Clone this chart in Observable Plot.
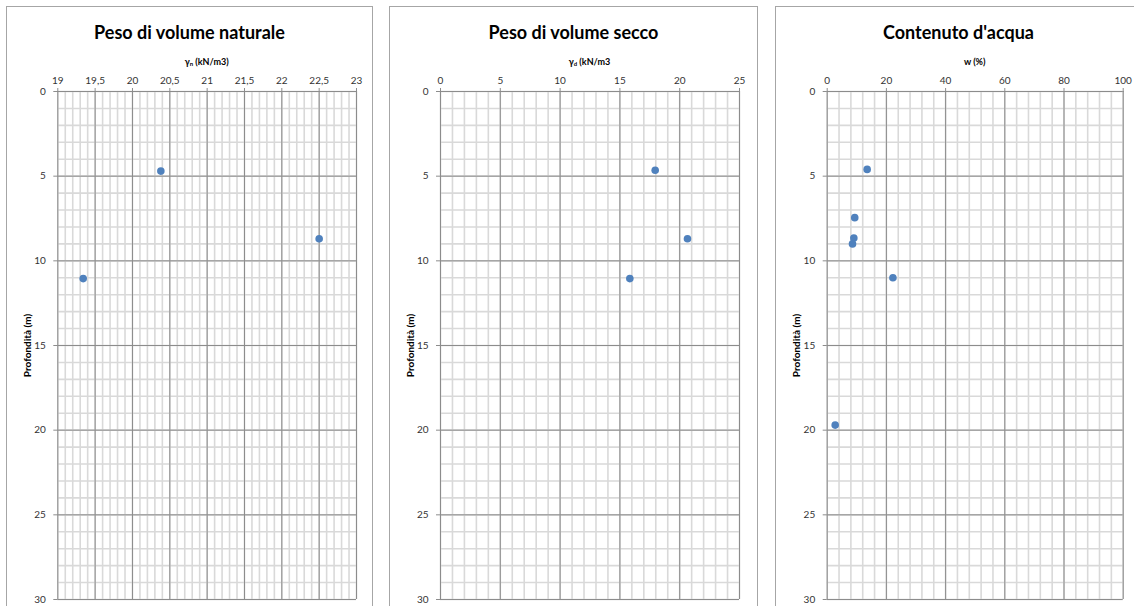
<!DOCTYPE html>
<html>
<head>
<meta charset="utf-8">
<script src="https://cdn.jsdelivr.net/npm/d3@7"></script>
<script src="https://cdn.jsdelivr.net/npm/@observablehq/plot@0.6"></script>
<style>
  html, body { margin: 0; padding: 0; background: #fff; }
  body { width: 1134px; height: 606px; overflow: hidden; position: relative; font-family: Lato, "Open Sans", sans-serif; }
  .panel { position: absolute; top: 6px; height: 660px; border: 1px solid #a6a6a6; box-sizing: border-box; background: #fff; }
  .title { position: absolute; top: 14px; left: 0; right: 0; text-align: center; font-weight: bold; font-size: 18px; color: #000; }
  .xlab { position: absolute; top: 49px; font-weight: bold; font-size: 9px; text-align: center; color: #000; white-space: nowrap; }
  .xlab sub { font-size: 6px; vertical-align: -1px; }
  .panel svg { position: absolute; left: 0; top: 59px; }
</style>
</head>
<body>
<script>
// Depth of each sample (m) and the measured values, one pair of arrays per profile
const depthNat = [4.7, 8.7, 11.05];
const unitWeightNat = [20.38, 22.5, 19.34];          // γn (kN/m3)

const depthDry = [4.65, 8.7, 11.05];
const unitWeightDry = [17.95, 20.65, 15.83];         // γd (kN/m3)

const depthWater = [4.6, 7.45, 8.65, 9.0, 11.0, 19.7];
const waterContent = [13.5, 9.3, 9.0, 8.55, 22.2, 2.7]; // w (%)

// Tick labels
const depthTicks = [0, 5, 10, 15, 20, 25, 30];
const ticksNat = [19, 19.5, 20, 20.5, 21, 21.5, 22, 22.5, 23];
const ticksDry = [0, 5, 10, 15, 20, 25];
const ticksWater = [0, 20, 40, 60, 80, 100];

const titles = ["Peso di volume naturale", "Peso di volume secco", "Contenuto d'acqua"];
const xLabels = ["γ<sub>n</sub> (kN/m3)", "γ<sub>d</sub> (kN/m3", "w (%)"];

const comma = (d) => String(d).replace(".", ",");

const panels = [
  { left: 6,   width: 367, plotLeft: 57.3,  plotRight: 356,  domain: [19, 23],  minorStep: 0.1, ticks: ticksNat,   depth: depthNat,   values: unitWeightNat },
  { left: 389, width: 369, plotLeft: 440,   plotRight: 739,  domain: [0, 25],   minorStep: 1,   ticks: ticksDry,   depth: depthDry,   values: unitWeightDry },
  { left: 775, width: 367, plotLeft: 826.7, plotRight: 1122.7, domain: [0, 100], minorStep: 4,   ticks: ticksWater, depth: depthWater, values: waterContent }
];

const SVG_H = 540;

panels.forEach((p, i) => {
  const div = document.createElement("div");
  div.className = "panel";
  div.style.left = p.left + "px";
  div.style.width = p.width + "px";
  document.body.appendChild(div);

  const innerLeft = p.left + 1;
  const svgW = p.width - 2;
  const mL = p.plotLeft - innerLeft;
  const mR = innerLeft + svgW - p.plotRight;

  const t = document.createElement("div");
  t.className = "title";
  t.textContent = titles[i];
  div.appendChild(t);

  const xl = document.createElement("div");
  xl.className = "xlab";
  xl.innerHTML = xLabels[i];
  xl.style.left = mL + "px";
  xl.style.width = (svgW - mL - mR) + "px";
  div.appendChild(xl);

  const [x0, x1] = p.domain;
  const nMinor = Math.round((x1 - x0) / p.minorStep);
  const minorX = d3.range(nMinor + 1).map((k) => +(x0 + k * p.minorStep).toFixed(3));
  const minorY = d3.range(31);

  const rows = p.depth.map((d, k) => ({ depth: d, value: p.values[k] }));

  const chart = Plot.plot({
    width: svgW,
    height: SVG_H,
    marginTop: 25,
    marginBottom: 7,
    marginLeft: mL,
    marginRight: mR,
    style: { fontFamily: "Lato, 'Open Sans', sans-serif", fontSize: "10px", color: "#404040", background: "transparent", overflow: "visible" },
    x: { domain: p.domain },
    y: { domain: [0, 30], reverse: true },
    marks: [
      // minor grid
      Plot.ruleX(minorX, { stroke: "#d9d9d9", strokeWidth: 1.6 }),
      Plot.ruleY(minorY, { stroke: "#d9d9d9", strokeWidth: 1.6 }),
      // major grid
      Plot.ruleX(p.ticks, { stroke: "#8c8c8c", strokeWidth: 1 }),
      Plot.ruleY(depthTicks, { stroke: "#8c8c8c", strokeWidth: 1 }),
      // axes
      Plot.axisX(p.ticks, { anchor: "top", tickFormat: comma, tickSize: 4, tickPadding: 4, stroke: "#8c8c8c", fill: "#333", label: null }),
      Plot.axisY(depthTicks, { anchor: "left", tickSize: 4, tickPadding: 8, stroke: "#8c8c8c", fill: "#333", label: null }),
      Plot.text(["Profondità (m)"], { frameAnchor: "left", textAnchor: "middle", dx: -30, rotate: -90, fontWeight: "bold", fontSize: 10, fill: "#000" }),
      // samples
      Plot.dot(rows, { x: "value", y: "depth", r: 3.8, fill: "#4f81bd", stroke: "none" })
    ]
  });
  div.appendChild(chart);
});
</script>
</body>
</html>
